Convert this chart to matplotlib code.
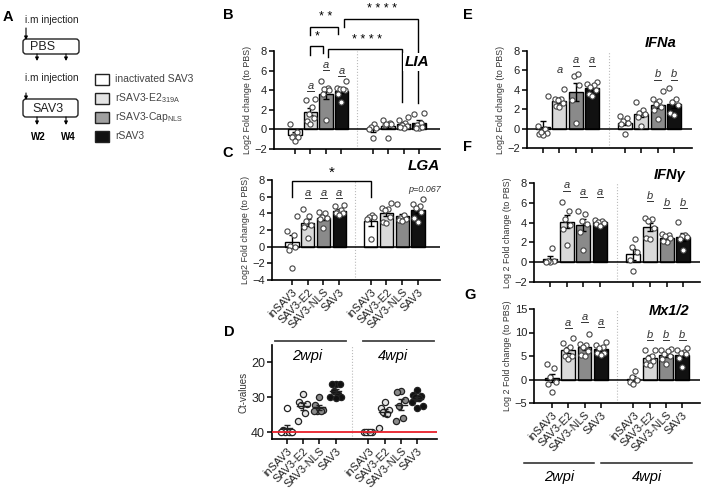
import numpy as np
import matplotlib
matplotlib.use('Agg')
import matplotlib.pyplot as plt
from matplotlib.patches import FancyBboxPatch, Rectangle
from matplotlib.transforms import ScaledTranslation, blended_transform_factory

plt.rcParams['font.family'] = ['Liberation Sans', 'DejaVu Sans']

# ---------------- data ----------------
groups = ['inSAV3', 'SAV3-E2', 'SAV3-NLS', 'SAV3']
tick_labels = groups + groups
legend_labels = ['inactivated SAV3', r'rSAV3-E2$_{\mathregular{319A}}$',
                 r'rSAV3-Cap$_{\mathregular{NLS}}$', 'rSAV3']
weeks = ['2wpi', '4wpi']

lia = [
    [0.5, -0.3, -0.7, -0.8, -0.8, -1.2],
    [3.0, 3.1, 2.3, 1.6, 1.2, 0.9, 0.6],
    [4.9, 4.2, 4.1, 4.0, 3.6, 1.0],
    [4.9, 4.2, 4.1, 4.0, 4.1, 3.6, 2.8],
    [0.6, 0.2, 0.1, 0.0, -0.9],
    [1.0, 0.7, 0.5, 0.4, 0.6, -0.9],
    [1.3, 1.0, 0.7, 0.4, 0.3, 0.1, 0.2],
    [1.7, 1.6, 0.7, 0.4, 0.1, 0.1, 0.2],
]
lga = [
    [3.7, 1.9, 1.4, 0.1, 0.0, -0.4, -2.5],
    [4.5, 3.7, 3.1, 2.6, 2.4, 1.1],
    [4.2, 4.0, 3.6, 3.5, 3.3, 2.2],
    [5.0, 4.9, 4.4, 4.2, 4.0, 4.0, 3.8],
    [3.8, 3.6, 3.6, 3.3, 0.9],
    [5.2, 4.7, 4.5, 4.4, 3.6, 3.0, 2.9],
    [5.1, 3.8, 3.5, 3.3, 3.2, 3.1],
    [5.7, 5.1, 4.9, 4.6, 4.2, 3.4, 3.0],
]
ifna = [
    [3.4, 0.3, 0.0, -0.5, -0.6, -0.7, -0.4],
    [4.1, 3.1, 3.0, 2.9, 2.6, 2.3, 2.2],
    [5.4, 5.6, 4.5, 2.9, 0.6],
    [4.8, 4.6, 4.5, 4.3, 4.0, 3.6, 3.4],
    [1.3, 1.1, 0.8, 0.6, 0.5, -0.6],
    [2.7, 1.9, 1.6, 1.5, 1.2, 0.3],
    [3.9, 3.0, 2.8, 2.5, 2.2, 1.9, 1.0],
    [4.2, 3.0, 2.7, 2.4, 1.6, 1.4],
]
ifng = [
    [1.4, 0.1, 0.0, 0.1, 0.0],
    [6.1, 5.2, 4.4, 3.8, 3.4, 1.7],
    [4.9, 5.2, 4.2, 3.0, 1.2, 3.9],
    [4.3, 4.2, 4.1, 4.0, 3.9, 3.7],
    [2.3, 1.5, 1.0, 0.2, -0.9],
    [4.5, 4.4, 4.2, 3.5, 2.4, 2.3],
    [2.8, 2.7, 2.6, 2.4, 2.0, 2.1],
    [4.1, 2.7, 2.6, 2.5, 2.3, 1.2],
]
mx12 = [
    [3.4, 2.4, 0.5, -0.6, -1.0, -2.7],
    [8.8, 7.7, 7.0, 6.2, 4.9, 4.3, 5.0],
    [9.6, 7.6, 7.3, 7.0, 6.0, 5.3, 5.0],
    [8.0, 7.3, 7.0, 6.6, 5.7, 5.6, 5.2],
    [1.9, 0.5, 0.0, -0.5, -1.0],
    [6.3, 6.2, 5.0, 4.6, 4.0, 3.3, 3.0],
    [6.4, 6.3, 6.0, 5.5, 5.1, 4.4, 3.3],
    [6.7, 6.2, 5.9, 5.6, 5.4, 4.5, 2.6],
]
ct = [
    [33.0, 39.5, 40, 40, 40, 40, 40],
    [29.0, 31.3, 32.2, 32.0, 34.5, 36.9],
    [29.8, 32.2, 33.6, 33.9, 34.0, 34.0],
    [26.2, 26.2, 26.3, 28.3, 29.2, 30.0, 30.0, 30.1],
    [40, 40, 40, 40, 40],
    [31.3, 33.2, 33.8, 34.2, 34.8, 38.7],
    [28.2, 28.4, 30.9, 32.5, 35.9, 36.9],
    [27.8, 29.5, 29.7, 30.0, 30.2, 31.5, 32.5, 33.0],
]
ct_cutoff = 40

# letter marks: (x position, height, letter, underlined)
marks_B = [(1, 4.5, 'a', True), (2, 6.65, 'a', True), (3, 6.05, 'a', True)]
marks_C = [(1, 6.5, 'a', True), (2, 6.5, 'a', True), (3, 6.5, 'a', True)]
marks_E = [(1, 6.04, 'a', False), (2, 7.07, 'a', True), (3, 7.07, 'a', True),
           (7, 5.63, 'b', True), (8, 5.63, 'b', True)]
marks_F = [(1, 7.8, 'a', True), (2, 7.1, 'a', True), (3, 7.1, 'a', True),
           (6, 6.7, 'b', True), (7, 6.0, 'b', True), (8, 6.0, 'b', True)]
marks_G = [(1, 12.1, 'a', True), (2, 13.4, 'a', True), (3, 12.3, 'a', True),
           (6, 9.6, 'b', True), (7, 9.6, 'b', True), (8, 9.6, 'b', True)]

# ---------------- layout ----------------
W, H = 704, 495
fig = plt.figure(figsize=(W / 100, H / 100), dpi=100)
positions = [0, 1, 2, 3, 5, 6, 7, 8]
bar_colors = ['#ffffff', '#d9d9d9', '#8a8a8a', '#111111']
dot_colors = ['#ffffff', '#e4e4e4', '#8a8a8a', '#111111']
TXT = '#333333'


def px_axes(l, t, r, b):
    return fig.add_axes([l / W, 1 - b / H, (r - l) / W, (b - t) / H])


def offsets_for(vals):
    pattern = [0.0, -0.22, 0.22, -0.11, 0.11, -0.3, 0.3, 0.0]
    order = np.argsort(vals, kind='stable')
    off = np.zeros(len(vals))
    for rank, idx in enumerate(order):
        off[idx] = pattern[rank % len(pattern)]
    return off


def style(ax, xlim, ylim, yticks, labels=False, ysize=8):
    ax.set_xlim(*xlim)
    ax.set_ylim(*ylim)
    ax.set_yticks(yticks)
    ax.set_xticks(positions)
    for s in ['top', 'right']:
        ax.spines[s].set_visible(False)
    for s in ['left', 'bottom']:
        ax.spines[s].set_linewidth(1.2)
    ax.tick_params(direction='out', length=3.5, width=1.1, labelsize=ysize, pad=1.5,
                   colors='black', labelcolor='#222222')
    ax.set_facecolor('none')
    if labels:
        ax.set_xticklabels(tick_labels, rotation=45, ha='right', va='top',
                           rotation_mode='anchor', fontsize=7.8)
    else:
        ax.set_xticklabels([])


def bar_panel(ax, data, xlim, ylim, yticks, ylabel, labels=False):
    means = [np.mean(d) for d in data]
    sems = [np.std(d, ddof=1) / np.sqrt(len(d)) for d in data]
    ax.bar(positions, means, width=0.85, color=bar_colors * 2, edgecolor='black',
           linewidth=1.0, zorder=2)
    ax.errorbar(positions, means, yerr=sems, fmt='none', ecolor='black',
                elinewidth=1.0, capsize=2.5, capthick=1.0, zorder=3)
    for p, d in zip(positions, data):
        d = np.asarray(d, dtype=float)
        ax.scatter(p + offsets_for(d), d, s=14, facecolor='white', edgecolor='#444444',
                   linewidth=0.8, zorder=4)
    ax.axhline(0, color='black', lw=1.1, zorder=2.5)
    ax.axvline(4, color='#bbbbbb', lw=0.8, ls=':', zorder=1)
    style(ax, xlim, ylim, yticks, labels)
    ax.set_ylabel(ylabel, fontsize=6.4, color=TXT, labelpad=2)


def add_marks(ax, marks):
    t_txt = ax.transData + ScaledTranslation(0, -2.5 / 72, fig.dpi_scale_trans)
    t_ul = ax.transData + ScaledTranslation(0, -4.0 / 72, fig.dpi_scale_trans)
    for x, v, s, ul in marks:
        ax.text(x, v, s, ha='center', va='baseline', fontsize=8, style='italic',
                color=TXT, transform=t_txt, zorder=6, clip_on=False)
        if ul:
            ax.plot([x - 0.2, x + 0.2], [v, v], color=TXT, lw=0.7, transform=t_ul,
                    clip_on=False, zorder=6)


def bracket(ax, x1, x2, top, b1, b2, lw=1.0):
    ax.plot([x1, x1, x2, x2], [b1, top, top, b2], color='black', lw=lw,
            clip_on=False, zorder=5, solid_joinstyle='miter')


# ---------- Panel B (LIA) ----------
axB = px_axes(274, 51, 440, 149)
bar_panel(axB, lia, (-1.35, 9.35), (-2, 8), [-2, 0, 2, 4, 6, 8],
          'Log2 Fold change (to PBS)')
add_marks(axB, marks_B)
bracket(axB, 1.0, 1.8, 8.5, 7.6, 7.8)
bracket(axB, 1.0, 2.8, 10.5, 9.6, 9.7)
bracket(axB, 3.15, 7.95, 11.3, 10.5, 2.7)
bracket(axB, 2.15, 6.9, 8.2, 7.4, 2.8)
axB.text(1.42, 9.45, '*', ha='center', va='center', fontsize=9, clip_on=False)
axB.text(2.0, 11.5, '* *', ha='center', va='center', fontsize=9, clip_on=False)
axB.text(5.6, 12.3, '* * * *', ha='center', va='center', fontsize=9, clip_on=False)
axB.text(4.65, 9.1, '* * * *', ha='center', va='center', fontsize=9, clip_on=False)
axB.text(7.9, 6.9, 'LIA', ha='center', va='center', fontsize=11, weight='bold',
         style='italic', zorder=7, clip_on=False,
         bbox=dict(facecolor='white', edgecolor='none', pad=1.5))

# ---------- Panel C (LGA) ----------
axC = px_axes(272, 180, 440, 280)
bar_panel(axC, lga, (-1.27, 9.4), (-4, 8), [-4, -2, 0, 2, 4, 6, 8],
          'Log2 Fold change (to PBS)', labels=True)
add_marks(axC, marks_C)
bracket(axC, 0, 5, 7.9, 6.0, 6.0)
axC.text(2.5, 8.9, '*', ha='center', va='center', fontsize=11, clip_on=False)
axC.text(8.4, 9.7, 'LGA', ha='center', va='center', fontsize=11, weight='bold',
         style='italic', clip_on=False)
axC.text(9.45, 6.8, 'p=0.067', ha='right', va='center', fontsize=6.5,
         style='italic', color=TXT, clip_on=False)

# ---------- Panel D (Ct values) ----------
axD = px_axes(272, 345, 437, 439)
for k, (p, d) in enumerate(zip(positions, ct)):
    d = np.asarray(d, dtype=float)
    m = d.mean()
    se = d.std(ddof=1) / np.sqrt(len(d))
    axD.scatter(p + offsets_for(d) * 1.1, d, s=20, facecolor=dot_colors[k % 4],
                edgecolor='#222222', linewidth=0.9, zorder=3)
    axD.plot([p - 0.35, p + 0.35], [m, m], color='#222222', lw=1.0, zorder=4)
    axD.errorbar(p, m, yerr=se, fmt='none', ecolor='#222222', elinewidth=1.0,
                 capsize=2.5, capthick=1.0, zorder=4)
axD.axhline(ct_cutoff, color='#e8202a', lw=1.3, zorder=5)
axD.axvline(4, color='#bbbbbb', lw=0.8, ls=':', zorder=1)
style(axD, (-0.9, 9.2), (42, 15), [20, 30, 40], labels=True, ysize=9)
axD.set_ylabel('Ct-values', fontsize=7, color=TXT, labelpad=2)
trD = blended_transform_factory(axD.transData, axD.transAxes)
axD.plot([-0.74, 3.6], [1.045, 1.045], color='#444444', lw=1.3, transform=trD, clip_on=False)
axD.plot([4.7, 9.0], [1.045, 1.045], color='#444444', lw=1.3, transform=trD, clip_on=False)
axD.text(1.25, 0.88, weeks[0], ha='center', va='center', fontsize=10.5, style='italic',
         transform=trD)
axD.text(6.5, 0.88, weeks[1], ha='center', va='center', fontsize=10.5, style='italic',
         transform=trD)

# ---------- Panel E (IFNa) ----------
axE = px_axes(527, 51, 692, 148)
bar_panel(axE, ifna, (-0.98, 9.1), (-2, 8), [-2, 0, 2, 4, 6, 8],
          'Log2 Fold change (to PBS)')
add_marks(axE, marks_E)
axE.text(7.2, 8.8, 'IFNa', ha='center', va='center', fontsize=10.5, weight='bold',
         style='italic', clip_on=False)

# ---------- Panel F (IFNgamma) ----------
axF = px_axes(534, 183, 700, 282)
bar_panel(axF, ifng, (-0.96, 9.0), (-2, 8), [-2, 0, 2, 4, 6, 8],
          'Log 2 Fold change (to PBS)')
add_marks(axF, marks_F)
axF.text(7.2, 8.8, 'IFNγ', ha='center', va='center', fontsize=10.5, weight='bold',
         style='italic', clip_on=False)

# ---------- Panel G (Mx1/2) ----------
axG = px_axes(534, 309, 700, 403)
bar_panel(axG, mx12, (-1.1, 9.08), (-5, 15), [-5, 0, 5, 10, 15],
          'Log 2 Fold change (to PBS)', labels=True)
add_marks(axG, marks_G)
axG.text(7.2, 14.5, 'Mx1/2', ha='center', va='center', fontsize=10.5, weight='bold',
         style='italic', clip_on=False)
trG = blended_transform_factory(axG.transData, axG.transAxes)
axG.plot([-1.7, 2.6], [-0.64, -0.64], color='#222222', lw=1.1, transform=trG, clip_on=False)
axG.plot([3.0, 8.6], [-0.64, -0.64], color='#222222', lw=1.1, transform=trG, clip_on=False)
axG.text(0.45, -0.79, weeks[0], ha='center', va='center', fontsize=10.5, style='italic',
         transform=trG, clip_on=False)
axG.text(5.8, -0.79, weeks[1], ha='center', va='center', fontsize=10.5, style='italic',
         transform=trG, clip_on=False)

# ---------- overlay: panel A and letters ----------
ax0 = fig.add_axes([0, 0, 1, 1], zorder=10)
ax0.set_xlim(0, W)
ax0.set_ylim(H, 0)
ax0.axis('off')
ax0.patch.set_visible(False)

for txt, (x, y) in zip('ABCDEFG', [(8, 17), (228, 15), (228, 153), (229, 332),
                                     (468, 15), (468, 147), (470, 295)]):
    ax0.text(x, y, txt, ha='center', va='center', fontsize=10.5, weight='bold')

ax0.text(25, 20, 'i.m injection', ha='left', va='center', fontsize=7.3, color='#222222')
ax0.text(25, 78, 'i.m injection', ha='left', va='center', fontsize=7.3, color='#222222')
for (l, t, r, b, label, cx) in [(23, 39, 79, 54, 'PBS', 43), (23, 99, 78, 117, 'SAV3', 48)]:
    ax0.add_patch(FancyBboxPatch((l, t), r - l, b - t, boxstyle='round,pad=0,rounding_size=3',
                                 facecolor='white', edgecolor='#222222', lw=1.0))
    ax0.text(cx, (t + b) / 2 + 0.5, label, ha='center', va='center', fontsize=9, color='#222222')
arrow = dict(arrowstyle='-|>', lw=0.8, color='black', mutation_scale=5, shrinkA=0, shrinkB=0)
ax0.annotate('', xy=(26, 40), xytext=(26, 28), arrowprops=arrow)
ax0.annotate('', xy=(26, 100), xytext=(26, 93), arrowprops=arrow)
for x in (37, 66):
    ax0.annotate('', xy=(x, 61), xytext=(x, 54), arrowprops=arrow)
    ax0.annotate('', xy=(x, 125), xytext=(x, 117), arrowprops=arrow)
ax0.text(38, 137, 'W2', ha='center', va='center', fontsize=7, weight='bold')
ax0.text(68, 137, 'W4', ha='center', va='center', fontsize=7, weight='bold')

legend_face = ['#ffffff', '#e4e4e4', '#a0a0a0', '#111111']
for k, (lab, yc) in enumerate(zip(legend_labels, [79.5, 98.5, 117.5, 136])):
    ax0.add_patch(Rectangle((95, yc - 5.5), 14, 11, facecolor=legend_face[k],
                            edgecolor='#222222', lw=1.0))
    ax0.text(115, yc, lab, ha='left', va='center', fontsize=7.5, color='#444444')

fig.savefig('out.png', dpi=100, facecolor='white')
